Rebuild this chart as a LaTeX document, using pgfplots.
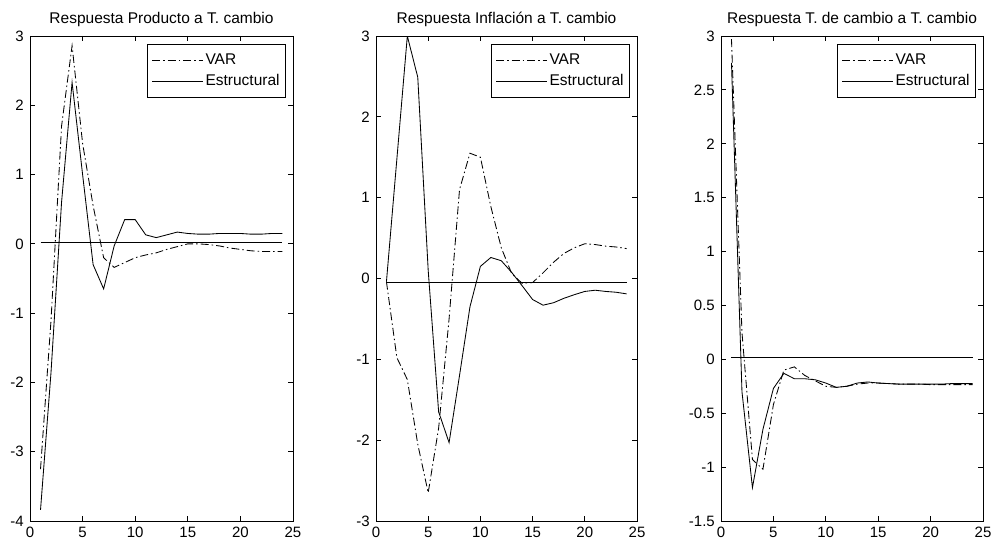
\documentclass[border=0pt]{standalone}
\usepackage{fontspec}
\setmainfont{Liberation Sans}
\usepackage{pgfplots}
\pgfplotsset{compat=1.18}

\newcommand\lblfont{\fontsize{15.5}{17}\selectfont}
\newcommand\tckfont{\fontsize{15}{17}\selectfont}

\pgfplotsset{
  irf/.style={
    scale only axis, width=262pt, height=485pt, anchor=south west,
    xmin=0, xmax=25, xtick={0,5,...,25},
    tick align=inside, tick pos=both, major tick length=5pt,
    axis line style={line width=0.8pt},
    every tick/.style={black, line width=0.8pt},
    /pgf/number format/assume math mode=true,
    tick label style={font=\tckfont},
    yticklabel style={inner sep=0pt, xshift=-6pt},
    xticklabel style={inner sep=0pt, yshift=-6pt},
    title style={font=\lblfont, at={(0.5,1)}, anchor=base, yshift=6.5pt, inner sep=0pt},
    legend style={at={(1,1)}, anchor=north east, xshift=-7pt, yshift=-8pt,
      draw=black, line width=0.8pt, font=\lblfont, inner xsep=4pt, inner ysep=7pt,
      row sep=3pt, nodes={inner sep=2pt, text height=11pt, text depth=3pt},
      cells={anchor=west}},
    legend image code/.code={\draw[#1] (0pt,0pt) -- (51pt,0pt);},
    every axis plot/.append style={black, line width=0.85pt},
  },
  var/.style={dash pattern=on 8pt off 3pt on 1.5pt off 3pt},
  est/.style={solid},
}

\begin{document}
\begin{tikzpicture}
\path[use as bounding box] (0pt,0pt) rectangle (995pt,544pt);

% Producto
\begin{axis}[irf, at={(30pt,23pt)}, width=263pt,
  ymin=-4, ymax=3, ytick={-4,-3,...,3},
  title={Respuesta Producto a T. cambio}]
\addplot[var] coordinates {(1,-3.25) (2,-1.1) (3,1.7) (4,2.86) (5,1.45) (6,0.55)
  (7,-0.2) (8,-0.34) (9,-0.27) (10,-0.2) (11,-0.16) (12,-0.13) (13,-0.08)
  (14,-0.04) (15,0.0) (16,0.0) (17,-0.01) (18,-0.03) (19,-0.06) (20,-0.08)
  (21,-0.1) (22,-0.11) (23,-0.11) (24,-0.11)};
\addplot[est] coordinates {(1,-3.84) (2,-1.85) (3,0.6) (4,2.33) (5,1.0) (6,-0.3)
  (7,-0.65) (8,-0.03) (9,0.35) (10,0.35) (11,0.13) (12,0.09) (13,0.13)
  (14,0.17) (15,0.15) (16,0.14) (17,0.14) (18,0.15) (19,0.15) (20,0.15)
  (21,0.14) (22,0.14) (23,0.15) (24,0.15)};
\addplot[est, forget plot] coordinates {(1,0.015) (24,0.015)};
\legend{VAR, Estructural}
\end{axis}

% Inflacion
\begin{axis}[irf, at={(376pt,23pt)}, width=261pt,
  ymin=-3, ymax=3, ytick={-3,-2,...,3},
  title={Respuesta Inflación a T. cambio}]
\addplot[var] coordinates {(1,-0.04) (2,-0.98) (3,-1.25) (4,-2.05) (5,-2.65)
  (6,-1.85) (7,-0.5) (8,1.1) (9,1.55) (10,1.5) (11,0.89) (12,0.38) (13,0.06)
  (14,-0.06) (15,-0.05) (16,0.07) (17,0.2) (18,0.31) (19,0.38) (20,0.43)
  (21,0.42) (22,0.4) (23,0.39) (24,0.37)};
\addplot[est] coordinates {(1,-0.04) (2,1.48) (3,3.0) (4,2.49) (5,0.1) (6,-1.65)
  (7,-2.03) (8,-1.2) (9,-0.35) (10,0.15) (11,0.26) (12,0.22) (13,0.075)
  (14,-0.09) (15,-0.26) (16,-0.33) (17,-0.3) (18,-0.245) (19,-0.2) (20,-0.16)
  (21,-0.145) (22,-0.16) (23,-0.17) (24,-0.19)};
\addplot[est, forget plot] coordinates {(1,-0.045) (24,-0.045)};
\legend{VAR, Estructural}
\end{axis}

% Tipo de cambio
\begin{axis}[irf, at={(721pt,23pt)}, width=262pt,
  ymin=-1.5, ymax=3, ytick={-1.5,-1,...,3},
  title={Respuesta T. de cambio a T. cambio}]
\addplot[var] coordinates {(1,2.97) (2,0.25) (3,-0.93) (4,-1.02) (5,-0.42) (6,-0.1)
  (7,-0.07) (8,-0.15) (9,-0.2) (10,-0.25) (11,-0.26) (12,-0.25) (13,-0.23)
  (14,-0.22) (15,-0.22) (16,-0.225) (17,-0.23) (18,-0.23) (19,-0.23) (20,-0.235)
  (21,-0.235) (22,-0.235) (23,-0.235) (24,-0.235)};
\addplot[est] coordinates {(1,2.75) (2,-0.3) (3,-1.19) (4,-0.65) (5,-0.27) (6,-0.13)
  (7,-0.18) (8,-0.18) (9,-0.19) (10,-0.22) (11,-0.26) (12,-0.25) (13,-0.22)
  (14,-0.21) (15,-0.22) (16,-0.225) (17,-0.23) (18,-0.23) (19,-0.23) (20,-0.23)
  (21,-0.23) (22,-0.225) (23,-0.225) (24,-0.225)};
\addplot[est, forget plot] coordinates {(1,0.022) (24,0.022)};
\legend{VAR, Estructural}
\end{axis}
\end{tikzpicture}
\end{document}
